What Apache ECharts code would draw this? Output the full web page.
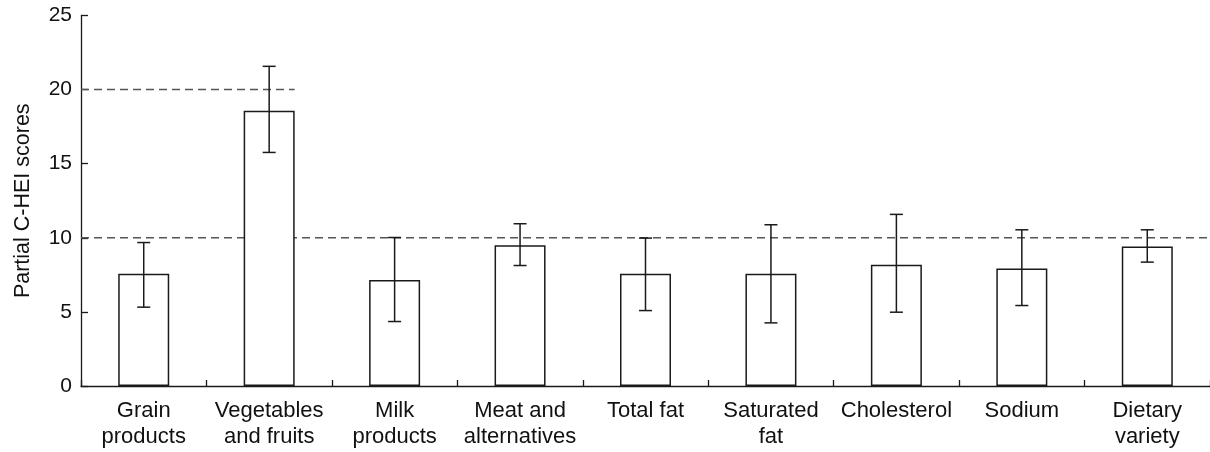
<!DOCTYPE html>
<html>
<head>
<meta charset="utf-8">
<script src="https://cdn.jsdelivr.net/npm/echarts@6/dist/echarts.min.js"></script>
<style>
html,body{margin:0;padding:0;background:#fff;}
#c{width:1210px;height:452px;}
</style>
</head>
<body>
<div id="c"></div>
<script>
const categories = ["Grain\nproducts", "Vegetables\nand fruits", "Milk\nproducts", "Meat and\nalternatives", "Total fat", "Saturated\nfat", "Cholesterol", "Sodium", "Dietary\nvariety"];
const means = [7.57, 18.58, 7.16, 9.5, 7.57, 7.57, 8.18, 7.93, 9.41];
const errLow = [5.32, 15.76, 4.35, 8.13, 5.09, 4.26, 4.98, 5.43, 8.36];
const errHigh = [9.68, 21.57, 10.02, 10.95, 9.98, 10.88, 11.58, 10.54, 10.54];
const yTicks = [0, 5, 10, 15, 20, 25];
const refLine20 = [[0, 20], [1.703, 20]];
const refLine10 = [[0, 10], [9, 10]];

const FONT = "Liberation Sans, Arial, Helvetica, sans-serif";
const INK = "#1a1a1a";
const TXT = "#111";

const chart = echarts.init(document.getElementById('c'), null, {renderer: 'canvas'});
const errData = categories.map((c, i) => [i, errLow[i], errHigh[i]]);

chart.setOption({
  animation: false,
  backgroundColor: '#fff',
  grid: {left: 81, right: 0, top: 15.5, bottom: 66, containLabel: false},
  xAxis: [{
    type: 'category',
    data: categories,
    axisLine: {show: true, lineStyle: {color: INK, width: 1.3}},
    axisTick: {show: true, inside: true, length: 6, lineStyle: {color: INK, width: 1.3}},
    axisLabel: {interval: 0, color: TXT, fontFamily: FONT, fontSize: 22, lineHeight: 26, margin: 12},
    splitLine: {show: false}
  }, {
    type: 'value', min: 0, max: 9, show: false
  }],
  yAxis: {
    type: 'value', min: 0, max: 25, interval: 5,
    name: 'Partial C-HEI scores',
    nameLocation: 'middle', nameGap: 47,
    nameTextStyle: {color: TXT, fontFamily: FONT, fontSize: 21.5},
    axisLine: {show: true, lineStyle: {color: INK, width: 1.3}},
    axisTick: {show: true, inside: true, length: 7, lineStyle: {color: INK, width: 1.3}},
    axisLabel: {color: TXT, fontFamily: FONT, fontSize: 21, margin: 9,
      formatter: v => yTicks.includes(v) ? String(v) : ''},
    splitLine: {show: false}
  },
  series: [
    {
      type: 'line', xAxisIndex: 1, data: refLine20, symbol: 'none', silent: true, z: 1,
      lineStyle: {color: '#555', width: 1.5, type: [8, 5]}
    },
    {
      type: 'line', xAxisIndex: 1, data: refLine10, symbol: 'none', silent: true, z: 1,
      lineStyle: {color: '#555', width: 1.5, type: [8, 5]}
    },
    {
      type: 'bar', data: means, barWidth: 51, z: 2,
      itemStyle: {color: '#fff', borderColor: INK, borderWidth: 1.5}
    },
    {
      type: 'custom', z: 3, data: errData,
      renderItem: function (params, api) {
        const x = api.value(0);
        const lo = api.coord([x, api.value(1)]);
        const hi = api.coord([x, api.value(2)]);
        const hw = 6.5;
        const style = {stroke: INK, lineWidth: 1.5, fill: null};
        return {type: 'group', children: [
          {type: 'line', shape: {x1: lo[0], y1: lo[1], x2: hi[0], y2: hi[1]}, style: style},
          {type: 'line', shape: {x1: lo[0] - hw, y1: lo[1], x2: lo[0] + hw, y2: lo[1]}, style: style},
          {type: 'line', shape: {x1: hi[0] - hw, y1: hi[1], x2: hi[0] + hw, y2: hi[1]}, style: style}
        ]};
      }
    }
  ]
});
</script>
</body>
</html>
